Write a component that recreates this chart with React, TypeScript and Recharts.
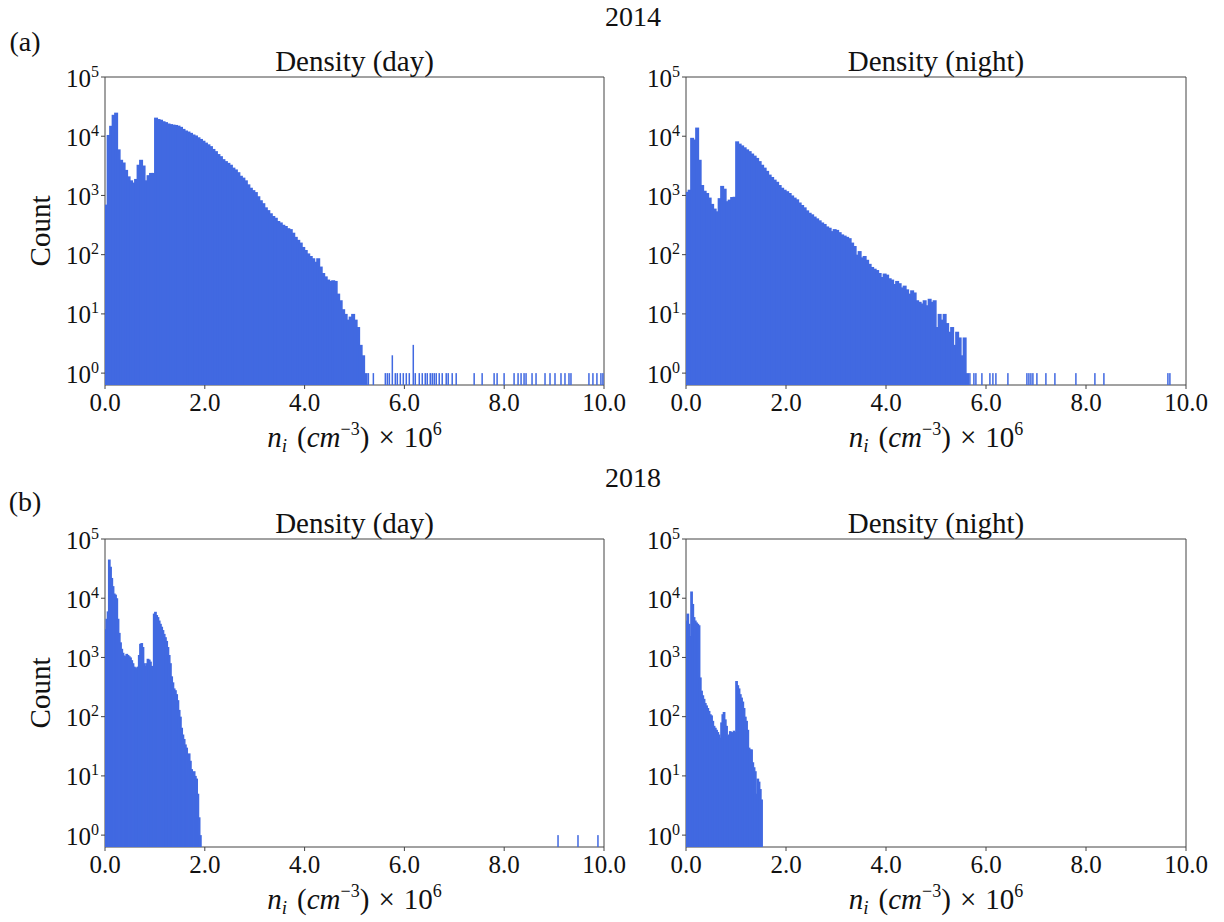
import React from "react";
import { Bar, ComposedChart, ReferenceArea, XAxis, YAxis } from "recharts";

const BLUE = "#4169e1";
const FONT = "'Liberation Serif', 'DejaVu Serif', serif";
const FRAME = "#444";

// counts per bin, 2014 panels use 0.05-wide bins starting at 0
const day2014Counts = [
  700, 10500, 15000, 23000, 25000, 6000, 4000, 3600, 2700, 2100,
  1800, 1650, 1900, 3300, 4000, 3200, 1800, 2200, 2400, 2400,
  20600, 19500, 19000, 17900, 17300, 16400, 16000, 15700, 15500, 15100,
  14400, 13300, 12500, 12000, 11400, 10700, 10300, 9600, 9000, 8400,
  7800, 7300, 6800, 6100, 5600, 5000, 4600, 4100, 3800, 3550,
  3300, 2950, 2750, 2470, 2150, 2000, 1800, 1540, 1350, 1230,
  1140, 970, 830, 740, 630, 565, 500, 450, 420, 370,
  350, 320, 305, 280, 270, 235, 200, 178, 160, 135,
  120, 105, 95, 87, 76, 87, 63, 49, 43, 38,
  36, 37, 36, 22, 17, 12, 10, 8, 9, 10,
  8, 6, 3, 2, 1
];
const night2014Counts = [
  1150, 1250, 9400, 8800, 14000, 4000, 1500, 1200, 1100, 920,
  720, 600, 540, 900, 1450, 1300, 800, 850, 940, 950,
  8200, 7500, 7000, 6500, 6000, 5600, 5100, 4700, 4300, 3800,
  3300, 2950, 2600, 2250, 2050, 1850, 1700, 1500, 1350, 1250,
  1180, 1100, 1000, 920, 860, 760, 690, 630, 560, 510,
  480, 440, 410, 380, 350, 330, 300, 285, 250, 270,
  262, 240, 220, 210, 200, 190, 160, 140, 100, 115,
  90, 95, 82, 70, 62, 58, 55, 49, 42, 48,
  46, 40, 38, 32, 36, 33, 28, 30, 26, 22,
  25, 23, 17, 16, 15, 17, 14, 18, 16, 17,
  6, 10, 8, 10, 7, 5, 6, 3, 5, 4,
  2, 4, 1
];

// 2018 panels use 0.025-wide bins starting at 0
const day2018Counts = [
  3000, 4500, 6000, 45000, 34000, 22000, 16000, 12000, 11500, 10000,
  4500, 2600, 1800, 1400, 1200, 1080, 1050, 1150, 1100, 1050,
  1000, 900, 800, 700, 680, 650, 700, 1100, 1700, 1750,
  1500, 800, 720, 800, 950, 920, 850, 720, 700, 5500,
  5900, 5200, 4800, 4200, 3700, 3300, 2900, 2500, 2200, 1900,
  1500, 1100, 800, 480, 380, 300, 280, 240, 190, 130,
  100, 65, 50, 42, 34, 30, 10, 24, 18, 13,
  11, 12, 10, 9, 5, 2, 1
];
const night2018Counts = [
  4200, 5500, 3700, 2300, 13000, 8000, 4800, 4200, 3900, 3700,
  3500, 460, 275, 230, 200, 170, 155, 140, 125, 110,
  105, 85, 70, 65, 60, 55, 50, 44, 80, 110,
  120, 90, 70, 47, 50, 57, 55, 54, 58, 55,
  400, 340, 300, 240, 210, 180, 140, 100, 85, 60,
  30, 28, 28, 17, 14, 12, 5, 9, 8, 6,
  4
];

// isolated high-density samples (thin spikes)
const day2014TailX = [
  5.28, 5.38, 5.62, 5.66, 5.7, 5.76, 5.82, 5.86, 5.92, 5.98, 6.04, 6.1, 6.18,
  6.22, 6.3, 6.36, 6.42, 6.46, 6.52, 6.56, 6.6, 6.64, 6.7, 6.76, 6.84, 6.88,
  6.96, 7.04, 7.4, 7.56, 7.8, 7.86, 8.0, 8.2, 8.28, 8.34, 8.4, 8.44, 8.56,
  8.64, 8.82, 8.92, 9.02, 9.14, 9.22, 9.3, 9.34, 9.7, 9.78, 9.86, 9.94, 9.98
];
const day2014TailCounts = [
  1, 1, 1, 1, 1, 2, 1, 1, 1, 1, 1, 1, 3,
  1, 1, 1, 1, 1, 1, 1, 1, 1, 1, 1, 1, 1,
  1, 1, 1, 1, 1, 1, 1, 1, 1, 1, 1, 1, 1,
  1, 1, 1, 1, 1, 1, 1, 1, 1, 1, 1, 1, 1
];
const night2014TailX = [
  5.68, 5.76, 5.8, 5.92, 6.08, 6.14, 6.2, 6.44, 6.82, 6.86, 6.9, 6.94, 7.02,
  7.2, 7.38, 7.8, 8.18, 8.36, 9.64, 9.68
];
const night2014TailCounts = [1, 1, 1, 1, 1, 1, 1, 1, 1, 1, 1, 1, 1, 1, 1, 1, 1, 1, 1, 1];
const day2018TailX = [9.08, 9.48, 9.88];
const day2018TailCounts = [1, 1, 1];

const xTicks = [0, 2, 4, 6, 8, 10];
const yTicks = [1, 10, 100, 1000, 10000, 100000];
const yDomain = [0.63, 100000];

type Datum = { x: number; count: number; tail: boolean };

function histogram(counts: number[], binWidth: number, tailX: number[] = [], tailCounts: number[] = []): Datum[] {
  const body = counts.map((count, i) => ({ x: (i + 0.5) * binWidth, count, tail: false }));
  const tail = tailX.map((x, i) => ({ x, count: tailCounts[i], tail: true }));
  return [...body, ...tail];
}

const XTick = ({ x, y, payload }: any) => (
  <text x={x} y={y + 20} textAnchor="middle" fontFamily={FONT} fontSize={25} fill="#111">
    {Number(payload.value).toFixed(1)}
  </text>
);

const YTick = ({ x, y, payload }: any) => (
  <text x={x} y={y + 9.5} textAnchor="end" fontFamily={FONT} fontSize={25} fill="#111">
    <tspan>10</tspan>
    <tspan fontSize={16} dy={-10}>
      {Math.round(Math.log10(payload.value))}
    </tspan>
  </text>
);

function HistBar(props: any) {
  const { x, y, width, height, payload, binPx } = props;
  if (!Number.isFinite(y) || !Number.isFinite(height) || height <= 0) return null;
  const w = payload.tail ? 1.5 : binPx;
  const cx = x + width / 2;
  return <rect x={cx - w / 2} y={y} width={w} height={height} fill={BLUE} />;
}

const PLOT_H = 308;
const AXIS_W = 100;
const RIGHT_PAD = 40;

function Panel({
  left,
  top,
  plotW,
  data,
  binWidth,
  title,
  showCount
}: {
  left: number;
  top: number;
  plotW: number;
  data: Datum[];
  binWidth: number;
  title: string;
  showCount: boolean;
}) {
  const binPx = (binWidth * plotW) / 10 + 1.5;
  const cx = left + plotW / 2;
  return (
    <>
      <div
        style={{
          position: "absolute",
          left: left - AXIS_W,
          top: top - 20
        }}
      >
        <ComposedChart
          width={AXIS_W + plotW + RIGHT_PAD}
          height={20 + PLOT_H + 40}
          data={data}
          margin={{ top: 20, right: RIGHT_PAD, left: 0, bottom: 0 }}
        >
          <XAxis
            dataKey="x"
            type="number"
            domain={[0, 10]}
            ticks={xTicks}
            allowDataOverflow
            tick={<XTick />}
            tickSize={4}
            tickLine={{ stroke: FRAME }}
            axisLine={false}
            height={40}
            interval={0}
          />
          <YAxis
            type="number"
            scale="log"
            domain={yDomain}
            ticks={yTicks}
            allowDataOverflow
            tick={<YTick />}
            tickSize={4}
            tickLine={{ stroke: FRAME }}
            axisLine={false}
            width={AXIS_W}
            interval={0}
          />
          <Bar
            dataKey="count"
            fill={BLUE}
            barSize={3}
            isAnimationActive={false}
            shape={(p: any) => <HistBar {...p} binPx={binPx} />}
          />
          <ReferenceArea
            x1={0}
            x2={10}
            y1={yDomain[0]}
            y2={yDomain[1]}
            fill="none"
            stroke={FRAME}
            strokeWidth={1}
            ifOverflow="visible"
          />
        </ComposedChart>
      </div>
      <div style={{ ...centered(cx, top - 16), fontSize: 29 }}>{title}</div>
      {showCount && (
        <div
          style={{
            ...centered(40, top + PLOT_H / 2),
            fontSize: 29,
            transform: "translate(-50%, -50%) rotate(-90deg)"
          }}
        >
          Count
        </div>
      )}
      <div style={{ ...centered(cx, top + 360), fontSize: 29 }}>
        <i>n</i>
        <i style={{ fontSize: 19, position: "relative", top: 5 }}>i</i>
        <span style={{ marginLeft: 10 }}>(</span>
        <i>cm</i>
        <span style={{ fontSize: 18, position: "relative", top: -12 }}>−3</span>
        <span>)</span>
        <span style={{ margin: "0 9px" }}>×</span>
        <span>10</span>
        <span style={{ fontSize: 18, position: "relative", top: -12 }}>6</span>
      </div>
    </>
  );
}

function centered(x: number, y: number): React.CSSProperties {
  return {
    position: "absolute",
    left: x,
    top: y,
    transform: "translate(-50%, -50%)",
    fontFamily: FONT,
    lineHeight: 1,
    whiteSpace: "nowrap",
    color: "#111"
  };
}

export default function App() {
  return (
    <div
      style={{
        position: "absolute",
        left: 0,
        top: 0,
        width: 1224,
        height: 922,
        background: "#fff",
        overflow: "hidden"
      }}
    >
      <div style={{ ...centered(633, 17), fontSize: 28 }}>2014</div>
      <div style={{ ...centered(25, 42), fontSize: 28 }}>(a)</div>
      <Panel
        left={105}
        top={77}
        plotW={499}
        data={histogram(day2014Counts, 0.05, day2014TailX, day2014TailCounts)}
        binWidth={0.05}
        title="Density (day)"
        showCount
      />
      <Panel
        left={686}
        top={77}
        plotW={500}
        data={histogram(night2014Counts, 0.05, night2014TailX, night2014TailCounts)}
        binWidth={0.05}
        title="Density (night)"
        showCount={false}
      />
      <div style={{ ...centered(633, 478), fontSize: 28 }}>2018</div>
      <div style={{ ...centered(25, 502), fontSize: 28 }}>(b)</div>
      <Panel
        left={105}
        top={539}
        plotW={499}
        data={histogram(day2018Counts, 0.025, day2018TailX, day2018TailCounts)}
        binWidth={0.025}
        title="Density (day)"
        showCount
      />
      <Panel
        left={686}
        top={539}
        plotW={500}
        data={histogram(night2018Counts, 0.025)}
        binWidth={0.025}
        title="Density (night)"
        showCount={false}
      />
    </div>
  );
}
